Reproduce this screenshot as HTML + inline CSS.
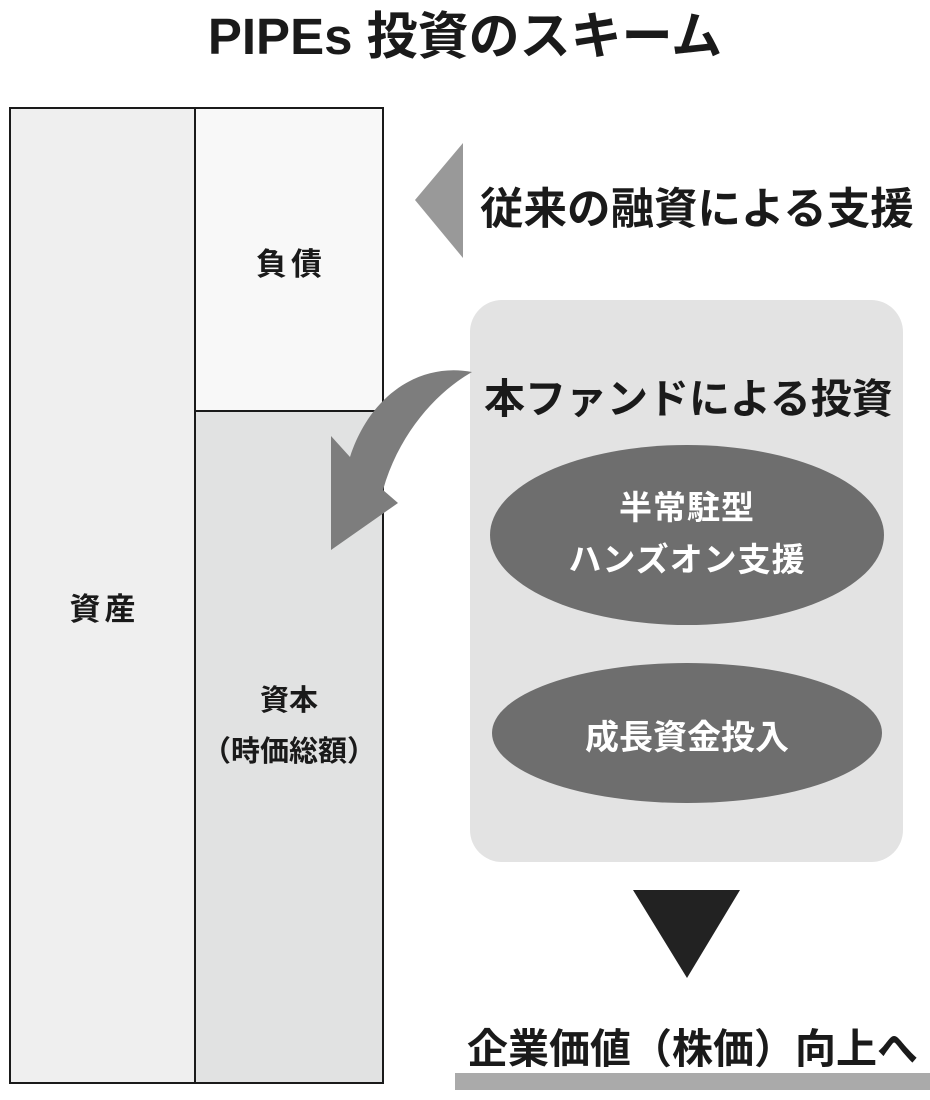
<!DOCTYPE html>
<html><head><meta charset="utf-8"><style>
body{margin:0;width:930px;height:1100px;background:#fff;position:relative;overflow:hidden;font-family:"Liberation Sans","Noto Sans CJK JP",sans-serif;color:#1a1a1a}
.t{position:absolute;white-space:nowrap;font-weight:bold}
</style></head><body>
<svg width="930" height="1100" style="position:absolute;left:0;top:0">
<rect x="10" y="108" width="185" height="975" fill="#efefef" stroke="#1a1a1a" stroke-width="2"/>
<rect x="195" y="108" width="188" height="303" fill="#f8f8f8" stroke="#1a1a1a" stroke-width="2"/>
<rect x="195" y="411" width="188" height="672" fill="#e1e2e2" stroke="#1a1a1a" stroke-width="2"/>
<rect x="470" y="300" width="433" height="562" rx="32" fill="#e3e3e3"/>
<ellipse cx="687" cy="535" rx="197" ry="90" fill="#6e6e6e"/>
<ellipse cx="687" cy="733" rx="195" ry="70" fill="#6e6e6e"/>
<polygon points="415,200 463,143 463,258" fill="#999"/>
<polygon points="633,890 740,890 687,978" fill="#222"/>
<rect x="455" y="1073" width="475" height="17" fill="#aaa"/>
<path d="M472,372 C420,362 370,395 350,457 L331,436 L331,550 L398,503 L383,490 C400,430 440,390 472,372 Z" fill="#7d7d7d"/>
</svg>
<div class="t" style="left:0;width:930px;top:-5px;text-align:center;font-size:51px">PIPEs 投資のスキーム</div>
<div class="t" style="left:195px;width:188px;top:239px;text-align:center;font-size:31px;letter-spacing:4px;text-indent:4px">負債</div>
<div class="t" style="left:10px;width:185px;top:584px;text-align:center;font-size:31px;letter-spacing:4px;text-indent:4px">資産</div>
<div class="t" style="left:195px;width:188px;top:676px;text-align:center;font-size:29px;line-height:51px">資本<br>（時価総額）</div>
<div class="t" style="left:480px;top:174px;font-size:43.5px">従来の融資による支援</div>
<div class="t" style="left:484px;top:365px;font-size:41px">本ファンドによる投資</div>
<div class="t" style="left:490px;width:394px;top:482px;text-align:center;font-size:33px;color:#fff;line-height:52px;letter-spacing:1px">半常駐型<br>ハンズオン支援</div>
<div class="t" style="left:490px;width:394px;top:710px;text-align:center;font-size:34px;color:#fff">成長資金投入</div>
<div class="t" style="left:467px;top:1015px;font-size:41px">企業価値（株価）向上へ</div>
</body></html>
